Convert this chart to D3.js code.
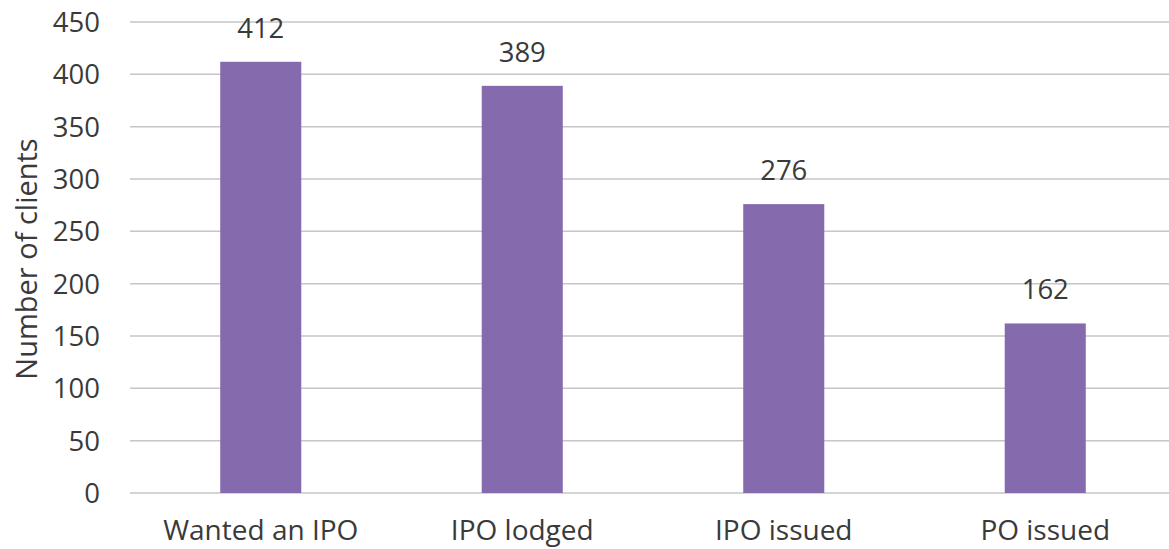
<!DOCTYPE html>
<html>
<head>
<meta charset="utf-8">
<script src="https://cdn.jsdelivr.net/npm/d3@7"></script>
<style>
  html, body { margin: 0; padding: 0; background: #fff; }
  svg { display: block; }
  text { font-family: "Open Sans", sans-serif; fill: #3a3a3a; }
</style>
</head>
<body>
<svg id="chart" width="1169" height="549"></svg>
<script>
const categories = ["Wanted an IPO", "IPO lodged", "IPO issued", "PO issued"];
const values = [412, 389, 276, 162];
const yTicks = [0, 50, 100, 150, 200, 250, 300, 350, 400, 450];
const yTitle = "Number of clients";

const W = 1169, H = 549;
const FS = 27.5;
const svg = d3.select("#chart");

const x = d3.scaleBand().domain(categories).range([130, 1176])
  .paddingInner(0.69).paddingOuter(0.345);
const y = d3.scaleLinear().domain([0, 450]).range([493, 22]);

// gridlines
svg.append("g").selectAll("line").data(yTicks).join("line")
  .attr("x1", 130).attr("x2", W)
  .attr("y1", d => y(d)).attr("y2", d => y(d))
  .attr("stroke", "#c6c6c6").attr("stroke-width", 1.5);

// y axis labels
const yAxis = d3.axisLeft(y).tickValues(yTicks).tickSize(0).tickPadding(0);
const gy = svg.append("g").attr("transform", "translate(100,0)").call(yAxis);
gy.select(".domain").remove();
gy.selectAll("text").attr("font-size", FS).attr("dy", "0.35em")
  .style("font-family", "'Open Sans', sans-serif").attr("fill", "#3a3a3a");

// bars
svg.append("g").selectAll("rect").data(values).join("rect")
  .attr("x", (d, i) => x(categories[i]))
  .attr("width", x.bandwidth())
  .attr("y", d => y(d))
  .attr("height", d => y(0) - y(d))
  .attr("fill", "#866aae");

// value labels
svg.append("g").selectAll("text").data(values).join("text")
  .attr("x", (d, i) => x(categories[i]) + x.bandwidth() / 2)
  .attr("y", d => y(d) - 24)
  .attr("text-anchor", "middle")
  .attr("font-size", FS)
  .text(d => d);

// x axis labels
const xAxis = d3.axisBottom(x).tickSize(0).tickPadding(0);
const gx = svg.append("g").call(xAxis);
gx.select(".domain").remove();
gx.selectAll("text").attr("y", 540).attr("dy", 0).attr("font-size", FS + 0.5)
  .style("font-family", "'Open Sans', sans-serif").attr("fill", "#3a3a3a");

// y title
svg.append("text")
  .attr("transform", "translate(37,259) rotate(-90)")
  .attr("text-anchor", "middle")
  .attr("font-size", 29)
  .text(yTitle);
</script>
</body>
</html>
